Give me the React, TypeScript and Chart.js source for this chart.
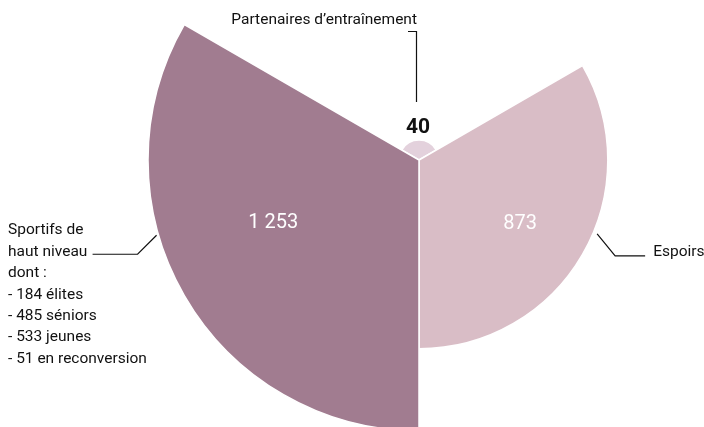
import React, { useEffect, useRef } from "react";
import { Chart, registerables } from "chart.js";

Chart.register(...registerables);

const categories = ["Partenaires d’entraînement", "Espoirs", "Sportifs de haut niveau"];
const values = [40, 873, 1253];
const colors = ["#e3d1dc", "#d9bdc6", "#a17c90"];
const detailLines = ["dont :", "- 184 élites", "- 485 séniors", "- 533 jeunes", "- 51 en reconversion"];

const FONT = "Roboto, 'Liberation Sans', Arial, sans-serif";
const CANVAS_TOP = -111;

function fmt(v: number): string {
  return String(v).replace(/\B(?=(\d{3})+(?!\d))/g, " ");
}

const MIN_VISIBLE_RADIUS = 20;

const labelPlugin = {
  id: "sliceLabels",
  beforeDatasetsDraw(chart: any) {
    const meta = chart.getDatasetMeta(0);
    meta.data.forEach((arc: any) => {
      if (arc.outerRadius < MIN_VISIBLE_RADIUS) arc.outerRadius = MIN_VISIBLE_RADIUS;
    });
  },
  afterDatasetsDraw(chart: any) {
    const ctx = chart.ctx as CanvasRenderingContext2D;
    const meta = chart.getDatasetMeta(0);
    const pt = (cx: number, cy: number, angDeg: number, r: number) => {
      const a = ((angDeg - 90) * Math.PI) / 180;
      return [cx + r * Math.cos(a), cy + r * Math.sin(a)];
    };
    ctx.save();
    ctx.textBaseline = "alphabetic";
    meta.data.forEach((arc: any, i: number) => {
      const { x, y, outerRadius } = arc;
      const v = values[i];
      if (i === 0) {
        ctx.fillStyle = "#111";
        ctx.font = `bold 21px ${FONT}`;
        ctx.textAlign = "center";
        ctx.fillText(fmt(v), x - 1, y - outerRadius - 7);
        ctx.strokeStyle = "#111";
        ctx.lineWidth = 1.2;
        ctx.beginPath();
        ctx.moveTo(x - 2.5, y - outerRadius - 38);
        ctx.lineTo(x - 2.5, y - 128.5);
        ctx.lineTo(x - 11, y - 128.5);
        ctx.stroke();
        ctx.font = `15.5px ${FONT}`;
        ctx.textAlign = "right";
        ctx.fillText(categories[0], x - 2, y - 136);
      } else if (i === 1) {
        const [tx, ty] = pt(x, y, 121.4, outerRadius * 0.627);
        ctx.fillStyle = "#ffffff";
        ctx.font = `20px ${FONT}`;
        ctx.textAlign = "center";
        ctx.fillText(fmt(v), tx, ty + 7.5);
        const [sx, sy] = pt(x, y, 112.5, outerRadius + 4);
        ctx.strokeStyle = "#111";
        ctx.lineWidth = 1.2;
        ctx.beginPath();
        ctx.moveTo(sx, sy);
        ctx.lineTo(sx + 18, sy + 22);
        ctx.lineTo(sx + 48, sy + 22);
        ctx.stroke();
        ctx.fillStyle = "#111";
        ctx.font = `15.5px ${FONT}`;
        ctx.textAlign = "left";
        ctx.fillText(categories[1], sx + 56, sy + 22);
      } else {
        const [tx, ty] = pt(x, y, 247.3, outerRadius * 0.583);
        ctx.fillStyle = "#ffffff";
        ctx.font = `20px ${FONT}`;
        ctx.textAlign = "center";
        ctx.fillText(fmt(v), tx, ty + 7.5);
        const [sx, sy] = pt(x, y, 254, outerRadius + 2);
        ctx.strokeStyle = "#111";
        ctx.lineWidth = 1.2;
        ctx.beginPath();
        ctx.moveTo(sx, sy);
        ctx.lineTo(sx - 19, sy + 19);
        ctx.lineTo(sx - 64, sy + 19);
        ctx.stroke();
        ctx.fillStyle = "#111";
        ctx.font = `15.5px ${FONT}`;
        ctx.textAlign = "left";
        const words = categories[2].split(" ");
        const lines = [words.slice(0, 2).join(" "), words.slice(2).join(" "), ...detailLines];
        const lh = 21.4;
        const baseY = sy + 19 - 19.8;
        lines.forEach((ln, k) => ctx.fillText(ln, 8, baseY + k * lh));
      }
    });
    ctx.restore();
  },
};

export default function App() {
  const ref = useRef<HTMLCanvasElement>(null);
  useEffect(() => {
    if (!ref.current) return;
    const chart = new Chart(ref.current, {
      type: "polarArea",
      data: {
        labels: categories,
        datasets: [
          {
            data: values,
            backgroundColor: colors,
            borderColor: "#ffffff",
            borderWidth: 1.5,
            clip: false,
          } as any,
        ],
      },
      options: {
        responsive: false,
        animation: false,
        layout: { padding: { left: 148, right: 14, top: 0, bottom: 0 } },
        plugins: { legend: { display: false }, tooltip: { enabled: false } },
        scales: {
          r: {
            display: false,
            min: 0,
            max: Math.max(...values),
            startAngle: -60,
          },
        },
      },
      plugins: [labelPlugin],
    });
    return () => chart.destroy();
  }, []);
  return (
    <div style={{ position: "absolute", left: 0, top: 0, width: 704, height: 427, overflow: "hidden", background: "#fff" }}>
      <canvas
        ref={ref}
        width={704}
        height={542}
        style={{ position: "absolute", left: 0, top: CANVAS_TOP, width: 704, height: 542 }}
      />
    </div>
  );
}
